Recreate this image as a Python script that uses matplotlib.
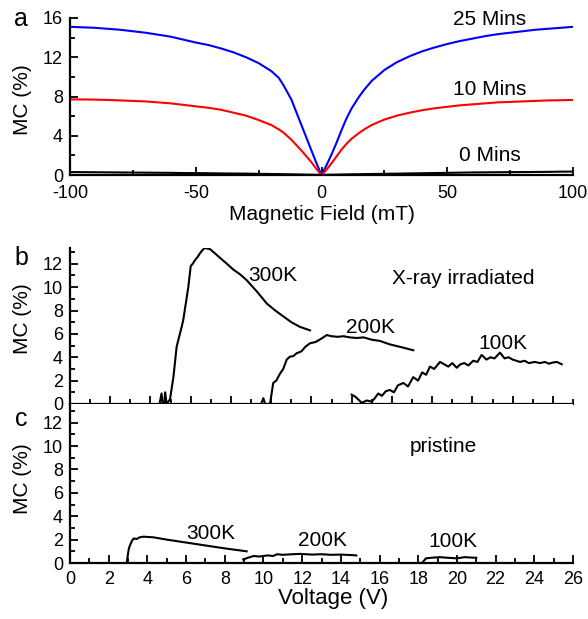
import numpy as np
import matplotlib
matplotlib.use("Agg")
import matplotlib.pyplot as plt
from matplotlib.ticker import MultipleLocator, FixedLocator

plt.rcParams['font.family'] = ['Liberation Sans', 'DejaVu Sans']
plt.rcParams['axes.unicode_minus'] = False

# ---- panel a : MC vs magnetic field ----
field = [-100, -95, -90, -85, -80, -75, -70, -65, -60, -55, -50, -45, -40, -35, -30, -25, -20,
         -17, -15, -12, -10, -8, -6, -4, -2, -1, 0, 1, 2, 4, 6, 8, 10, 12, 15, 17,
         20, 25, 30, 35, 40, 45, 50, 55, 60, 65, 70, 75, 80, 85, 90, 95, 100]
mc_25min = [15.1, 15.05, 15.0, 14.9, 14.8, 14.65, 14.5, 14.3, 14.1, 13.8, 13.5, 13.25, 12.9, 12.5, 12.0, 11.4, 10.6,
            9.9, 9.1, 7.7, 6.4, 5.1, 3.8, 2.5, 1.2, 0.6, 0.0, 0.5, 1.0, 2.1, 3.3, 4.6, 5.8, 6.8, 8.0, 8.7,
            9.6, 10.7, 11.5, 12.1, 12.6, 13.0, 13.35, 13.65, 13.9, 14.15, 14.35, 14.5, 14.65, 14.8, 14.9, 15.0, 15.1]
mc_10min = [7.7, 7.7, 7.68, 7.65, 7.6, 7.55, 7.5, 7.4, 7.3, 7.15, 7.0, 6.85, 6.65, 6.35, 6.05, 5.6, 5.1,
            4.65, 4.3, 3.6, 3.05, 2.5, 1.9, 1.3, 0.6, 0.3, 0.0, 0.25, 0.55, 1.2, 1.9, 2.6, 3.2, 3.7, 4.3, 4.65,
            5.1, 5.65, 6.05, 6.35, 6.6, 6.8, 6.95, 7.1, 7.2, 7.3, 7.4, 7.45, 7.5, 7.55, 7.6, 7.62, 7.65]
mc_0min = [0.3, 0.29, 0.28, 0.27, 0.26, 0.25, 0.24, 0.23, 0.22, 0.2, 0.19, 0.18, 0.16, 0.15, 0.14, 0.12, 0.1,
           0.09, 0.08, 0.07, 0.06, 0.05, 0.04, 0.03, 0.02, 0.01, 0.0, 0.01, 0.02, 0.03, 0.04, 0.05, 0.06, 0.07, 0.08, 0.09,
           0.1, 0.12, 0.14, 0.16, 0.18, 0.2, 0.22, 0.24, 0.26, 0.27, 0.28, 0.29, 0.3, 0.31, 0.32, 0.34, 0.35]

# ---- panel b : X-ray irradiated, MC vs voltage ----
v_b300 = [4.45, 4.55, 4.6, 4.68, 4.73, 4.8, 4.97, 5.14, 5.3, 5.55, 5.63, 5.88, 6.0, 6.1, 6.21, 6.35, 6.46,
          6.6, 6.71, 6.85, 6.96, 7.2, 7.46, 7.8, 8.12, 8.45, 8.78, 9.3, 9.78, 10.2, 10.6, 11.0, 11.43, 11.93]
mc_b300 = [0.0, 0.9, 0.0, 0.0, 1.0, 0.0, 0.4, 2.3, 4.9, 6.6, 7.2, 10.0, 11.8, 12.0, 12.3, 12.6, 12.9,
           13.2, 13.35, 13.3, 13.25, 12.9, 12.5, 12.0, 11.5, 11.1, 10.6, 9.6, 8.6, 8.0, 7.5, 7.0, 6.6, 6.3]
v_b200 = [9.5, 9.61, 9.7, 9.94, 10.1, 10.25, 10.44, 10.6, 10.77, 10.93, 11.1, 11.27, 11.5, 11.7, 11.93,
          12.2, 12.5, 12.76, 13.0, 13.3, 13.6, 13.9, 14.25, 14.6, 15.0, 15.4, 15.9, 16.5, 17.06]
mc_b200 = [0.0, 0.5, 0.0, 0.0, 1.8, 2.0, 2.6, 3.0, 3.8, 4.05, 4.1, 4.35, 4.5, 4.9, 5.2,
           5.3, 5.6, 5.9, 5.8, 5.75, 5.8, 5.7, 5.65, 5.7, 5.5, 5.4, 5.1, 4.85, 4.6]
v_b100 = [14.0, 14.2, 14.5, 14.75, 15.0, 15.15, 15.32, 15.5, 15.7, 15.9, 16.1, 16.3, 16.57, 16.8, 17.06,
          17.3, 17.5, 17.7, 17.89, 18.1, 18.39, 18.6, 18.8, 19.0, 19.22, 19.4, 19.6, 19.8, 20.04, 20.25,
          20.46, 20.7, 20.9, 21.1, 21.37, 21.6, 21.8, 22.0, 22.37, 22.6, 22.8, 23.1, 23.36, 23.6, 23.8,
          24.0, 24.2, 24.44]
mc_b100 = [0.8, 0.6, 0.1, 0.3, 0.2, 0.5, 0.9, 0.7, 1.1, 1.2, 1.0, 1.6, 1.8, 1.5, 2.3,
           2.0, 2.7, 2.5, 3.2, 3.0, 3.6, 3.4, 3.2, 3.5, 3.1, 3.4, 3.5, 3.3, 3.7, 3.6,
           4.2, 3.8, 4.0, 3.9, 4.4, 3.9, 4.0, 3.8, 3.6, 3.7, 3.5, 3.6, 3.5, 3.6, 3.45,
           3.55, 3.6, 3.4]

# ---- panel c : pristine, MC vs voltage ----
v_c300 = [2.93, 3.0, 3.05, 3.2, 3.3, 3.45, 3.6, 3.8, 4.3, 5.0, 6.0, 7.0, 8.0, 9.13]
mc_c300 = [0.0, 0.8, 1.3, 1.9, 2.1, 2.05, 2.2, 2.25, 2.2, 2.0, 1.75, 1.5, 1.25, 1.0]
v_c200 = [8.95, 9.2, 9.5, 9.8, 10.2, 10.5, 10.7, 11.0, 11.5, 11.9, 12.5, 13.0, 13.5, 14.0, 14.5, 14.8]
mc_c200 = [0.3, 0.45, 0.6, 0.55, 0.65, 0.6, 0.75, 0.7, 0.75, 0.78, 0.72, 0.75, 0.7, 0.72, 0.68, 0.65]
v_c100 = [18.2, 18.4, 18.7, 19.1, 19.5, 20.0, 20.4, 20.9, 21.0]
mc_c100 = [0.0, 0.4, 0.45, 0.5, 0.45, 0.4, 0.5, 0.45, 0.45]

W, H = 588, 619
fig = plt.figure(figsize=(W / 100, H / 100), dpi=100)


def px_axes(left, top, right, bottom):
    return fig.add_axes([left / W, 1 - bottom / H, (right - left) / W, (bottom - top) / H])


def style(ax):
    for s in ['top', 'right']:
        ax.spines[s].set_visible(False)
    for s in ['left', 'bottom']:
        ax.spines[s].set_linewidth(1.6)
    ax.tick_params(which='both', direction='in', width=1.3, labelsize=13, pad=5)
    ax.tick_params(which='major', length=6)
    ax.tick_params(which='minor', length=3.5)


lw = 1.5
tsize = 15
lsize = 15

# panel a
ax0 = px_axes(70, 18, 573, 175)
style(ax0)
ax0.plot(field, mc_25min, color='blue', lw=lw)
ax0.plot(field, mc_10min, color='red', lw=lw)
ax0.plot(field, mc_0min, color='black', lw=lw)
ax0.set_xlim(-100, 100)
ax0.set_ylim(0, 16)
ax0.xaxis.set_major_locator(MultipleLocator(50))
ax0.xaxis.set_minor_locator(MultipleLocator(25))
ax0.yaxis.set_major_locator(MultipleLocator(4))
ax0.yaxis.set_minor_locator(MultipleLocator(2))
ax0.tick_params(axis='x', pad=7)
ax0.set_xlabel('Magnetic Field (mT)', fontsize=lsize)
ax0.set_ylabel('MC (%)', fontsize=lsize)
ax0.xaxis.set_label_coords(0.5, -0.19)
ax0.yaxis.set_label_coords(-0.075, 0.48)
ax0.text(67, 15.8, '25 Mins', fontsize=tsize, ha='center', va='center')
ax0.text(67, 8.75, '10 Mins', fontsize=tsize, ha='center', va='center')
ax0.text(67, 2.0, '0 Mins', fontsize=tsize, ha='center', va='center')
fig.text(21 / W, 1 - 19 / H, 'a', fontsize=18, ha='center', va='center')

# panel b
ax1 = px_axes(70, 248, 573, 404)
style(ax1)
ax1.plot(v_b300, mc_b300, color='black', lw=lw)
ax1.plot(v_b200, mc_b200, color='black', lw=lw)
ax1.plot(v_b100, mc_b100, color='black', lw=lw)
ax1.set_xlim(0, 25)
ax1.set_ylim(0, 13.35)
ax1.xaxis.set_major_locator(MultipleLocator(2))
ax1.xaxis.set_minor_locator(MultipleLocator(1))
ax1.yaxis.set_major_locator(FixedLocator([0, 2, 4, 6, 8, 10, 12]))
ax1.yaxis.set_minor_locator(FixedLocator([1, 3, 5, 7, 9, 11, 13]))
ax1.tick_params(axis='x', labelbottom=False)
ax1.set_ylabel('MC (%)', fontsize=lsize)
ax1.yaxis.set_label_coords(-0.075, 0.55)
ax1.text(10.06, 11.0, '300K', fontsize=tsize, ha='center', va='center')
ax1.text(14.96, 6.55, '200K', fontsize=tsize, ha='center', va='center')
ax1.text(21.5, 5.2, '100K', fontsize=tsize, ha='center', va='center')
ax1.text(19.53, 10.7, 'X-ray irradiated', fontsize=tsize, ha='center', va='center')
fig.text(21 / W, 1 - 258 / H, 'b', fontsize=18, ha='center', va='center')

# panel c
ax2 = px_axes(70, 404, 573, 563)
style(ax2)
ax2.plot(v_c300, mc_c300, color='black', lw=lw)
ax2.plot(v_c200, mc_c200, color='black', lw=lw)
ax2.plot(v_c100, mc_c100, color='black', lw=lw)
ax2.set_xlim(0, 26)
ax2.set_ylim(0, 13.6)
ax2.xaxis.set_major_locator(MultipleLocator(2))
ax2.xaxis.set_minor_locator(MultipleLocator(1))
ax2.yaxis.set_major_locator(FixedLocator([0, 2, 4, 6, 8, 10, 12]))
ax2.yaxis.set_minor_locator(FixedLocator([1, 3, 5, 7, 9, 11, 13]))
ax2.tick_params(axis='x', pad=6)
ax2.set_xlabel('Voltage (V)', fontsize=16)
ax2.set_ylabel('MC (%)', fontsize=lsize)
ax2.xaxis.set_label_coords(0.523, -0.155)
ax2.yaxis.set_label_coords(-0.075, 0.53)
ax2.text(7.26, 2.55, '300K', fontsize=tsize, ha='center', va='center')
ax2.text(13.07, 1.93, '200K', fontsize=tsize, ha='center', va='center')
ax2.text(19.8, 1.8, '100K', fontsize=tsize, ha='center', va='center')
ax2.text(19.29, 10.0, 'pristine', fontsize=tsize, ha='center', va='center')
fig.text(21 / W, 1 - 419 / H, 'c', fontsize=18, ha='center', va='center')

fig.savefig('out.png', dpi=100)
